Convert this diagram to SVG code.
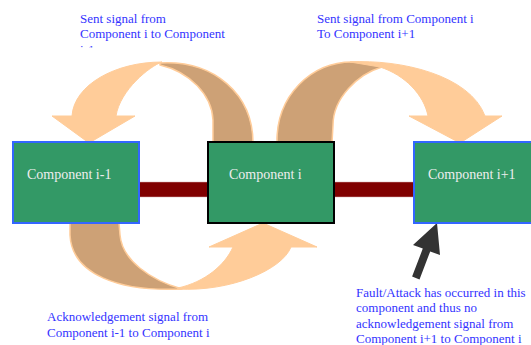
<svg xmlns="http://www.w3.org/2000/svg" width="531" height="345" viewBox="0 0 531 345">
  <defs>
    <style>
      .box { fill: #339966; stroke-width: 2; }
      .blue { stroke: #3366ff; }
      .dark { stroke: #000000; }
      .boxlabel { font-family: "Liberation Serif", "Times New Roman", serif; font-size: 14px; fill: #eeeeee; }
      .note { font-family: "Liberation Serif", "Times New Roman", serif; font-size: 13px; fill: #3333ff; }
      .front { fill: #ffcc99; stroke: #ffcc99; stroke-width: 1; stroke-linejoin: round; }
      .back { fill: #cda176; stroke: #ffcc99; stroke-width: 1.5; stroke-linejoin: round; }
      .bar { fill: #800000; stroke: #d8b0b0; stroke-width: 0.5; }
    </style>
    <clipPath id="clip-note-tail">
      <rect x="70" y="40" width="60" height="7.5"/>
    </clipPath>
  </defs>
  <rect width="531" height="345" fill="#ffffff"/>

  <!-- links between neighbouring components -->
  <g id="connectors">
    <rect class="bar" x="139" y="182" width="69" height="15"/>
    <rect class="bar" x="334" y="182" width="80" height="15"/>

    <!-- curved signal arrow: component i to component i-1 -->
    <g id="arrow-sent-left">
      <path class="back" d="M 160,63 C 215,60 253,95 253,143 L 213,143 L 213,120 C 212,95 190,72 160,65 Z"/>
      <path class="front" d="M 72,116 C 74,85 115,62 162,62 C 150,66 120,90 116,116 L 135,116 L 89,143 L 52,116 Z"/>
    </g>

    <!-- curved signal arrow: component i to component i+1 -->
    <g id="arrow-sent-right">
      <path class="back" d="M 277,143 C 276,95 312,62 352,62 C 365,62 375,64 382,67 C 358,74 333,98 333,125 L 332,143 Z"/>
      <path class="front" d="M 350,62 C 400,59 470,75 485,116 L 502,116 L 460,143 L 409,116 L 428,116 C 424,95 405,75 380,67 Z"/>
    </g>

    <!-- acknowledgement arrow: component i-1 to component i -->
    <g id="arrow-ack">
      <path class="back" d="M 70,223 L 70,235 C 72,275 120,292 182,289 C 150,280 122,260 120,235 L 119,223 Z"/>
      <path class="front" d="M 178,289 C 230,292 282,270 291,247 L 317,247 L 263,223 L 209,247 L 233,247 C 225,265 205,282 178,288 Z"/>
    </g>

    <!-- fault pointer -->
    <polygon id="fault-pointer" fill="#333333" points="437,223 440,255 430.2,251.4 419.5,279.4 412.1,276.6 422.8,248.6 413,245"/>
  </g>

  <g id="component-i-minus-1">
    <rect class="box blue" x="13" y="142" width="126" height="81"/>
    <text class="boxlabel" x="27" y="179">Component i-1</text>
  </g>

  <g id="component-i">
    <rect class="box dark" x="208" y="142" width="126" height="81"/>
    <text class="boxlabel" x="229" y="179">Component i</text>
  </g>

  <g id="component-i-plus-1">
    <rect class="box blue" x="414" y="142" width="130" height="81"/>
    <text class="boxlabel" x="428" y="179">Component i+1</text>
  </g>

  <g id="labels">
    <text class="note" x="80" y="22.5">Sent signal from</text>
    <text class="note" x="80" y="38.3">Component i to Component</text>
    <text class="note" x="80" y="54" clip-path="url(#clip-note-tail)">i-1</text>

    <text class="note" x="317" y="22.5">Sent signal from Component i</text>
    <text class="note" x="317" y="38.3">To Component i+1</text>

    <text class="note" x="47" y="320.7">Acknowledgement signal from</text>
    <text class="note" x="47" y="336.7">Component i-1 to Component i</text>

    <text class="note" x="356" y="297.3">Fault/Attack has occurred in this</text>
    <text class="note" x="356" y="312.4">component and thus no</text>
    <text class="note" x="356" y="327.5">acknowledgement signal from</text>
    <text class="note" x="356" y="342.7">Component i+1 to Component i</text>
  </g>
</svg>
